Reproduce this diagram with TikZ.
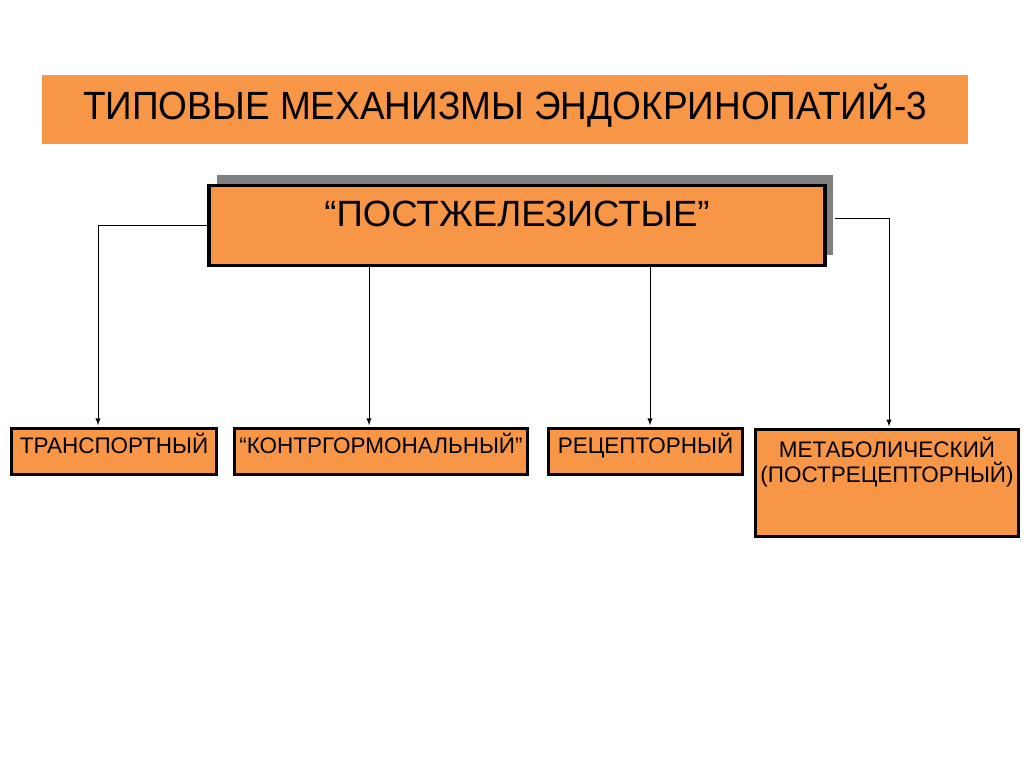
\documentclass[tikz,border=0pt]{standalone}
\usepackage{fontspec}
\setmainfont{Liberation Sans}
\newfontfamily\titlefont[FakeStretch=0.94]{Liberation Sans}
\usetikzlibrary{arrows,shadows}
\definecolor{boxorange}{RGB}{247,150,70}
\definecolor{shadowgray}{RGB}{128,128,128}

\begin{document}
\begin{tikzpicture}
\tikzset{heading/.style = {fill=boxorange, minimum width=23.15cm, minimum height=1.725cm, inner sep=0pt, font=\titlefont\fontsize{28}{34}\selectfont, text height=20pt, text depth=6.4pt}}
\tikzset{mainbox/.style = {draw=black, line width=2.8pt, fill=boxorange, minimum width=15.4cm, minimum height=2cm, inner sep=0pt, font=\fontsize{26}{31}\selectfont, text height=18.6pt, text depth=17pt, general shadow={fill=shadowgray, shadow xshift=0.2cm, shadow yshift=0.25cm}}}
\tikzset{leaf/.style = {draw=black, line width=2.2pt, fill=boxorange, minimum height=1.15cm, inner sep=0pt, font=\fontsize{16}{17.7}\selectfont, text height=12pt, text depth=9pt}}
\tikzset{conn/.style = {draw=black, line width=0.7pt, -latex}}

% page frame
\useasboundingbox (0,0) rectangle (25.6,-19.175);

% title and top box
\node[heading] (title) at (12.625,-2.7375) {ТИПОВЫЕ МЕХАНИЗМЫ ЭНДОКРИНОПАТИЙ-3};
\node[mainbox] (post) at (12.925,-5.6375) {“ПОСТЖЕЛЕЗИСТЫЕ”};

% the four mechanisms
\node[leaf, minimum width=5.12cm] (trans) at (2.85,-11.2875) {ТРАНСПОРТНЫЙ};
\node[leaf, minimum width=7.32cm] (contra) at (9.525,-11.2875) {“КОНТРГОРМОНАЛЬНЫЙ”};
\node[leaf, minimum width=4.85cm] (recep) at (16.1375,-11.2875) {РЕЦЕПТОРНЫЙ};
\node[leaf, minimum width=6.57cm, text height=, text depth=] (metab) at (22.175,-12.075)
  {\parbox[c][2.67cm][t]{6.5cm}{\centering\rule{0pt}{20pt}МЕТАБОЛИЧЕСКИЙ\\(ПОСТРЕЦЕПТОРНЫЙ)}};

% arrow ends
\coordinate (t in) at (2.45,-10.63);
\coordinate (c in) at (9.225,-10.63);
\coordinate (r in) at (16.25,-10.63);
\coordinate (m in) at (22.225,-10.66);
\coordinate (m out) at (20.875,-5.45);

% connectors
\draw[conn] (post.west) -| (t in);
\draw[conn] (post.south -| c in) -- (c in);
\draw[conn] (post.south -| r in) -- (r in);
\draw[conn] (m out) -| (m in);
\end{tikzpicture}
\end{document}
